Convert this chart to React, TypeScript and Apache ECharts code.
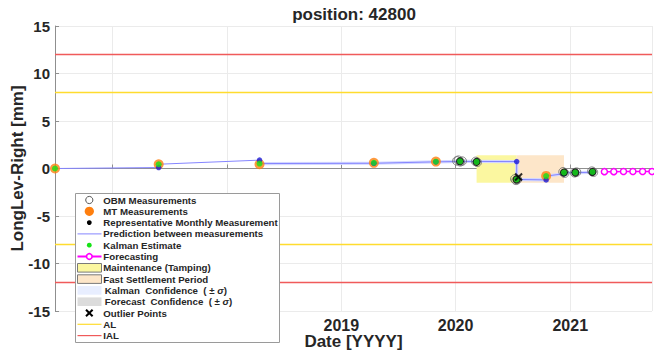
import { useEffect, useRef } from "react";
import * as echarts from "echarts";

// ---- chart texts ----
const TITLE = "position: 42800";
const X_NAME = "Date [YYYY]";
const Y_NAME = "LongLev-Right [mm]";

// ---- axis ranges ----
const X_RANGE = ["2016-07-01", "2021-09-19"];
const Y_MIN = -15;
const Y_MAX = 15;
const Y_STEP = 5;
// year labels that sit under the legend box
const YEARS_UNDER_LEGEND = [2017, 2018];

// ---- MT (manual track) measurements ----
const mtDates = ["2016-07-01", "2017-05-28", "2018-04-15", "2019-04-15", "2019-10-30", "2020-10-16"];
const mtValues = [0.0, 0.45, 0.45, 0.6, 0.73, -0.78];

// ---- OBM (on-board monitoring) measurements ----
const obmDates = [
  "2020-01-05", "2020-01-10", "2020-01-16", "2020-01-22",
  "2020-03-05", "2020-03-10",
  "2020-07-08", "2020-07-12", "2020-07-16",
  "2020-12-09", "2020-12-14",
  "2021-01-15", "2021-01-21",
  "2021-03-11", "2021-03-16",
];
const obmValues = [
  0.8, 0.88, 0.7, 0.78,
  0.75, 0.65,
  -1.1, -1.25, -1.15,
  -0.35, -0.5,
  -0.45, -0.38,
  -0.28, -0.4,
];

// ---- representative monthly measurements ----
const repDates = ["2020-01-15", "2020-03-08", "2020-07-14", "2020-12-12", "2021-01-17", "2021-03-13"];
const repValues = [0.75, 0.7, -1.15, -0.43, -0.43, -0.36];

// ---- Kalman filter: posterior estimate and prior prediction at each step ----
const kalmanDates = [
  "2016-07-01", "2017-05-28", "2018-04-15", "2019-04-15", "2019-10-30", "2020-01-15",
  "2020-03-08", "2020-07-14", "2020-10-16", "2020-12-12", "2021-01-17", "2021-03-13",
];
const kalmanValues = [0.0, 0.45, 0.52, 0.6, 0.72, 0.75, 0.7, -1.15, -0.8, -0.43, -0.43, -0.36];
const predictedValues = [0.0, 0.1, 0.88, 0.55, 0.7, 0.74, 0.74, 0.73, -1.2, -0.55, -0.44, -0.4];
// the confidence band is drawn from this filter step onwards
const confidenceFromStep = 2;

// ---- forecast ----
const forecastDates = ["2021-04-20", "2021-05-20", "2021-06-20", "2021-07-20", "2021-08-20", "2021-09-19"];
const forecastValues = [-0.33, -0.33, -0.32, -0.32, -0.31, -0.31];

// ---- outliers ----
const outlierDates = ["2020-07-20"];
const outlierValues = [-0.9];

// ---- periods ----
const maintenancePeriod = ["2020-03-08", "2020-07-14"];
const settlementPeriod = ["2020-07-14", "2020-12-12"];
const periodBand = [-1.5, 1.4];

// ---- limits ----
const alLevels = [8, -8];
const ialLevels = [12, -12];

// ---- legend ----
const legendLabels = [
  "OBM Measurements",
  "MT Measurements",
  "Representative Monthly Measurement",
  "Prediction between measurements",
  "Kalman Estimate",
  "Forecasting",
  "Maintenance (Tamping)",
  "Fast Settlement Period",
  "Kalman  Confidence  ( \u00b1 ",
  "Forecast  Confidence  ( \u00b1 ",
  "Outlier Points",
  "AL",
  "IAL",
];

const FONT = "'Liberation Sans', Arial, Helvetica, sans-serif";
const TEXT = "#262626";
const C_MT = "#ff7f0e";
const C_KALMAN = "#16e316";
const C_PRED_LINE = "#8585ff";
const C_PRED_DOT = "#1a1ad6";
const C_FORECAST = "#ff00ff";
const C_MAINT = "#fbf7a0";
const C_SETTLE = "#fde6c9";
const C_AL = "#ffdc2e";
const C_IAL = "#f05a5a";
const C_KCONF = "#e8eeff";
const C_KCONF_BAND = "#d3d7ff";
const C_FCONF = "#dcdcdc";
const AXIS = "#8f8f8f";
const GRID = "#ebebeb";
const LEGEND_Z = 200;

const pairs = (xs: string[], ys: number[]) => xs.map((x, i) => [x, ys[i]]);

// posterior -> next prior -> next posterior ... as one polyline
function predictionPath(from = 0) {
  const pts: (string | number)[][] = [[kalmanDates[from], kalmanValues[from]]];
  for (let i = from + 1; i < kalmanDates.length; i++) {
    pts.push([kalmanDates[i], predictedValues[i]]);
    pts.push([kalmanDates[i], kalmanValues[i]]);
  }
  return pts;
}

function buildLegend() {
  const left = 75;
  const top = 193;
  const width = 204;
  const height = 149;
  const symX = 89.3;
  const lineX0 = 77.5;
  const lineX1 = 101.5;
  const textX = 103.3;
  const rowY = (i: number) => 200 + i * 11.3;
  const children: any[] = [
    {
      type: "rect",
      shape: { x: left + 0.5, y: top + 0.5, width, height },
      style: { fill: "#ffffff", stroke: "#9a9a9a", lineWidth: 1 },
    },
  ];
  const patch = (i: number, fill: string, stroke?: string) => ({
    type: "rect",
    shape: { x: lineX0, y: rowY(i) - 4.3, width: lineX1 - lineX0, height: 8.6 },
    style: { fill, stroke: stroke || null, lineWidth: stroke ? 1 : 0 },
  });
  const hline = (i: number, color: string, w: number) => ({
    type: "line",
    shape: { x1: lineX0, y1: rowY(i), x2: lineX1, y2: rowY(i) },
    style: { stroke: color, lineWidth: w },
  });
  children.push({ type: "circle", shape: { cx: symX, cy: rowY(0), r: 3.6 }, style: { fill: "#fff", stroke: "#555", lineWidth: 1 } });
  children.push({ type: "circle", shape: { cx: symX, cy: rowY(1), r: 4.6 }, style: { fill: C_MT } });
  children.push({ type: "circle", shape: { cx: symX, cy: rowY(2), r: 2.4 }, style: { fill: "#000" } });
  children.push(hline(3, C_PRED_LINE, 1));
  children.push({ type: "circle", shape: { cx: symX, cy: rowY(4), r: 2.4 }, style: { fill: C_KALMAN } });
  children.push(hline(5, C_FORECAST, 2));
  children.push({ type: "circle", shape: { cx: symX, cy: rowY(5), r: 2.8 }, style: { fill: "#fff", stroke: C_FORECAST, lineWidth: 1.6 } });
  children.push(patch(6, C_MAINT, "#7a7a7a"));
  children.push(patch(7, C_SETTLE, "#7a7a7a"));
  children.push(patch(8, C_KCONF));
  children.push(patch(9, C_FCONF));
  children.push({
    type: "polyline",
    shape: { points: [[symX - 3.3, rowY(10) - 3.3], [symX + 3.3, rowY(10) + 3.3]] },
    style: { stroke: "#000", lineWidth: 2 },
  });
  children.push({
    type: "polyline",
    shape: { points: [[symX + 3.3, rowY(10) - 3.3], [symX - 3.3, rowY(10) + 3.3]] },
    style: { stroke: "#000", lineWidth: 2 },
  });
  children.push(hline(11, C_AL, 1.2));
  children.push(hline(12, C_IAL, 1.2));

  legendLabels.forEach((label, i) => {
    const confidence = i === 8 || i === 9;
    children.push({
      type: "text",
      x: confidence ? textX + 1.5 : textX,
      y: rowY(i),
      style: confidence
        ? {
            text: `{a|${label}}{s|\u03c3}{a|)}`,
            rich: {
              a: { fontFamily: FONT, fontSize: 9.7, fontWeight: "bold", fill: TEXT },
              s: { fontFamily: FONT, fontSize: 9.7, fontStyle: "italic", fontWeight: "bold", fill: TEXT },
            },
            verticalAlign: "middle",
            align: "left",
          }
        : {
            text: label,
            fontFamily: FONT,
            fontSize: 9.7,
            fontWeight: "bold",
            fill: TEXT,
            verticalAlign: "middle",
            align: "left",
          },
    });
  });
  // keep the whole legend above the axis
  children.forEach((c, k) => {
    c.z = LEGEND_Z;
    c.z2 = k;
  });
  return { type: "group", z: LEGEND_Z, children };
}

export default function App() {
  const ref = useRef<HTMLDivElement>(null);

  useEffect(() => {
    if (!ref.current) return;
    const chart = echarts.init(ref.current, undefined, { renderer: "svg" });

    const option: any = {
      animation: false,
      backgroundColor: "#ffffff",
      textStyle: { fontFamily: FONT },
      grid: { left: 55, top: 26, right: 2, bottom: 47, containLabel: false, outerBoundsMode: "none" },
      xAxis: {
        type: "time",
        min: X_RANGE[0],
        max: X_RANGE[1],
        minInterval: 365 * 24 * 3600 * 1000,
        maxInterval: 366 * 24 * 3600 * 1000,
        name: X_NAME,
        nameLocation: "middle",
        nameGap: 22,
        nameMoveOverlap: false,
        nameTextStyle: { fontFamily: FONT, fontSize: 17, fontWeight: "bold", color: TEXT },
        axisLine: { show: true, lineStyle: { color: AXIS, width: 1 } },
        axisTick: { show: true, inside: true, length: 4, lineStyle: { color: AXIS } },
        axisLabel: {
          fontFamily: FONT,
          fontSize: 16,
          fontWeight: "bold",
          color: TEXT,
          margin: 6,
          showMinLabel: false,
          showMaxLabel: false,
          formatter: (v: number) => {
            const y = new Date(v).getFullYear();
            return YEARS_UNDER_LEGEND.includes(y) ? "" : String(y);
          },
        },
        splitLine: { show: true, lineStyle: { color: GRID, width: 1 } },
        minorTick: { show: false },
      },
      yAxis: {
        type: "value",
        min: Y_MIN,
        max: Y_MAX,
        interval: Y_STEP,
        name: Y_NAME,
        nameLocation: "middle",
        nameGap: 29,
        nameMoveOverlap: false,
        nameTextStyle: { fontFamily: FONT, fontSize: 17, fontWeight: "bold", color: TEXT },
        axisLine: { show: true, lineStyle: { color: AXIS, width: 1 } },
        axisTick: { show: true, inside: true, length: 4, lineStyle: { color: AXIS } },
        axisLabel: { fontFamily: FONT, fontSize: 15, fontWeight: "bold", color: TEXT, margin: 5 },
        splitLine: { show: true, lineStyle: { color: GRID, width: 1 } },
      },
      graphic: [
        {
          type: "text",
          x: 354,
          y: 14.5,
          z: 100,
          style: {
            text: TITLE,
            fontFamily: FONT,
            fontSize: 17,
            fontWeight: "bold",
            fill: TEXT,
            align: "center",
            verticalAlign: "middle",
          },
        },
        buildLegend(),
      ],
      series: [
        {
          name: "periods",
          type: "line",
          data: [],
          silent: true,
          markArea: {
            silent: true,
            data: [
              [
                { xAxis: maintenancePeriod[0], yAxis: periodBand[1], itemStyle: { color: C_MAINT } },
                { xAxis: maintenancePeriod[1], yAxis: periodBand[0] },
              ],
              [
                { xAxis: settlementPeriod[0], yAxis: periodBand[1], itemStyle: { color: C_SETTLE } },
                { xAxis: settlementPeriod[1], yAxis: periodBand[0] },
              ],
            ],
          },
        },
        {
          name: "limits",
          type: "line",
          data: [],
          silent: true,
          markLine: {
            silent: true,
            symbol: "none",
            label: { show: false },
            data: [
              ...alLevels.map((v) => ({ yAxis: v, lineStyle: { color: C_AL, width: 1.3, type: "solid" } })),
              ...ialLevels.map((v) => ({ yAxis: v, lineStyle: { color: C_IAL, width: 1.3, type: "solid" } })),
            ],
          },
        },
        {
          name: "Kalman Confidence",
          type: "line",
          data: predictionPath(confidenceFromStep),
          showSymbol: false,
          symbol: "none",
          lineStyle: { color: C_KCONF_BAND, width: 3.2, cap: "round", join: "round" },
          z: 2,
        },
        {
          name: "Prediction between measurements",
          type: "line",
          data: predictionPath(),
          showSymbol: false,
          symbol: "none",
          lineStyle: { color: C_PRED_LINE, width: 1 },
          z: 3,
        },
        {
          name: "OBM Measurements",
          type: "scatter",
          data: pairs(obmDates, obmValues),
          symbol: "circle",
          symbolSize: 8.5,
          itemStyle: { color: "rgba(255,255,255,0)", borderColor: "#6a6a6a", borderWidth: 1, opacity: 0.8 },
          z: 4,
        },
        {
          name: "MT Measurements",
          type: "scatter",
          data: pairs(mtDates, mtValues),
          symbol: "circle",
          symbolSize: 10,
          itemStyle: { color: C_MT },
          z: 5,
        },
        {
          name: "Prediction",
          type: "scatter",
          data: pairs(kalmanDates.slice(1), predictedValues.slice(1)),
          symbol: "circle",
          symbolSize: 5.5,
          itemStyle: { color: C_PRED_DOT },
          z: 6,
        },
        {
          name: "Representative Monthly Measurement",
          type: "scatter",
          data: pairs(repDates, repValues),
          symbol: "circle",
          symbolSize: 8,
          itemStyle: { color: "#000000" },
          z: 7,
        },
        {
          name: "Kalman Estimate",
          type: "scatter",
          data: pairs(kalmanDates, kalmanValues),
          symbol: "circle",
          symbolSize: 6,
          itemStyle: { color: C_KALMAN },
          z: 8,
        },
        {
          name: "Outlier Points",
          type: "scatter",
          data: pairs(outlierDates, outlierValues),
          symbol: "path://M0,0L10,10M10,0L0,10",
          symbolSize: 7,
          itemStyle: { color: "rgba(0,0,0,0)", borderColor: "#000", borderWidth: 2 },
          z: 9,
        },
        {
          name: "Forecasting",
          type: "line",
          data: pairs(forecastDates, forecastValues),
          symbol: "circle",
          symbolSize: 6,
          showAllSymbol: true,
          lineStyle: { color: C_FORECAST, width: 1.5 },
          itemStyle: { color: "#ffffff", borderColor: C_FORECAST, borderWidth: 1.5 },
          z: 9,
        },
      ],
    };

    chart.setOption(option);
    return () => chart.dispose();
  }, []);

  return (
    <div
      ref={ref}
      style={{ position: "absolute", left: 0, top: 0, width: 654, height: 358, background: "#fff" }}
    />
  );
}
